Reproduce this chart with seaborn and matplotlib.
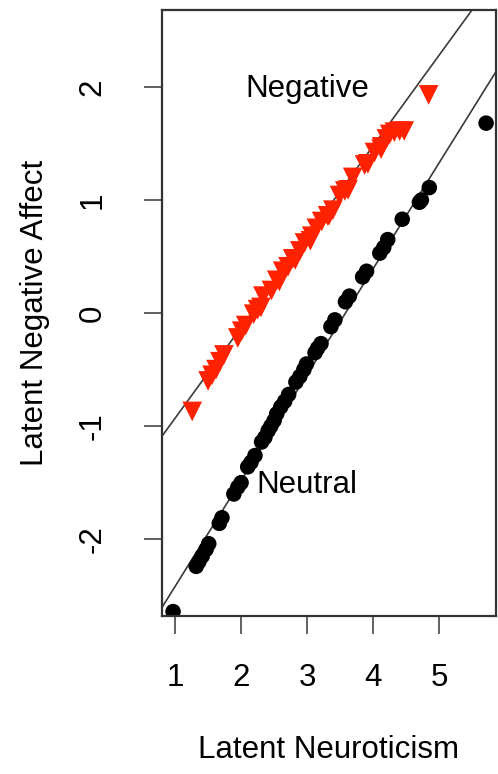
import numpy as np
import pandas as pd
import matplotlib
matplotlib.use("Agg")
import matplotlib.pyplot as plt
import seaborn as sns

# Neutral condition (black circles)
neutral_x = [0.97, 1.32, 1.36, 1.41, 1.47, 1.51, 1.67, 1.71, 1.89, 1.95, 2.00,
             2.10, 2.15, 2.21, 2.31, 2.36, 2.41, 2.45, 2.50, 2.54, 2.60, 2.66,
             2.72, 2.83, 2.89, 2.95, 2.99, 3.12, 3.16, 3.21, 3.36, 3.42, 3.58,
             3.64, 3.84, 3.90, 4.10, 4.16, 4.22, 4.44, 4.70, 4.73, 4.85, 5.71]
neutral_y = [-2.64, -2.24, -2.20, -2.15, -2.09, -2.04, -1.86, -1.81, -1.60, -1.54, -1.50,
             -1.36, -1.32, -1.26, -1.14, -1.10, -1.04, -1.00, -0.95, -0.89, -0.83, -0.78,
             -0.72, -0.61, -0.56, -0.50, -0.45, -0.35, -0.31, -0.27, -0.12, -0.06, 0.10,
             0.15, 0.32, 0.37, 0.53, 0.58, 0.65, 0.83, 0.98, 1.00, 1.11, 1.68]

# Negative condition (red triangles)
negative_x = [1.26, 1.50, 1.56, 1.62, 1.68, 1.74, 1.95, 2.01, 2.07, 2.19, 2.25,
              2.33, 2.46, 2.54, 2.63, 2.71, 2.78, 2.89, 2.96, 3.07, 3.14, 3.22,
              3.31, 3.39, 3.49, 3.57, 3.69, 3.87, 4.02, 4.13, 4.20, 4.25, 4.32,
              4.40, 4.47, 4.84, 2.30, 2.58, 2.82, 3.05, 3.33, 3.62, 3.92, 4.12]
negative_y = [-0.87, -0.60, -0.55, -0.50, -0.43, -0.37, -0.22, -0.16, -0.11, -0.01, 0.03,
              0.15, 0.20, 0.29, 0.37, 0.41, 0.48, 0.55, 0.62, 0.68, 0.75, 0.81,
              0.86, 0.91, 1.04, 1.08, 1.20, 1.31, 1.42, 1.47, 1.54, 1.58, 1.60,
              1.61, 1.61, 1.93, 0.05, 0.28, 0.47, 0.64, 0.86, 1.09, 1.32, 1.45]

# fitted lines (intercept, slope)
negative_line = (-1.733, 0.803)
neutral_line = (-3.355, 0.937)

df = pd.concat([
    pd.DataFrame({"neuro": neutral_x, "affect": neutral_y, "cond": "Neutral"}),
    pd.DataFrame({"neuro": negative_x, "affect": negative_y, "cond": "Negative"}),
])

sns.set_style("ticks")
plt.rcParams["font.family"] = ["Liberation Sans", "DejaVu Sans"]
plt.rcParams["text.color"] = "black"
plt.rcParams["axes.labelcolor"] = "black"
plt.rcParams["xtick.labelcolor"] = "black"
plt.rcParams["ytick.labelcolor"] = "black"

fig = plt.figure(figsize=(4.98, 7.74), dpi=100)
ax = fig.add_axes([0.325, 0.204, 0.671, 0.783])

for b0, b1 in (negative_line, neutral_line):
    ax.axline((0, b0), slope=b1, color="#3a3a3a", lw=1.2, zorder=1)

sns.scatterplot(data=df[df.cond == "Neutral"], x="neuro", y="affect", ax=ax,
                color="black", marker="o", s=125, edgecolor="none", zorder=2)
sns.scatterplot(data=df[df.cond == "Negative"], x="neuro", y="affect", ax=ax,
                color="#ff2200", marker="v", s=200, edgecolor="none", zorder=3)

ax.text(3.0, 1.98, "Negative", ha="center", va="center", fontsize=22.5)
ax.text(3.0, -1.52, "Neutral", ha="center", va="center", fontsize=22.5)

ax.set_xlim(0.80, 5.86)
ax.set_ylim(-2.68, 2.68)
ax.set_xticks([1, 2, 3, 4, 5])
ax.set_yticks([-2, -1, 0, 1, 2])
ax.set_yticklabels(["-2", "-1", "0", "1", "2"], rotation=90, va="center")
ax.tick_params(axis="both", direction="out", length=13, width=1.3, color="#555555",
               labelsize=22.5)
ax.tick_params(axis="x", pad=21)
ax.tick_params(axis="y", pad=26)

for sp in ax.spines.values():
    sp.set_color("#333333")
    sp.set_linewidth(1.6)
    sp.set_visible(True)

ax.set_xlabel("Latent Neuroticism", fontsize=22.5, va="center")
ax.set_ylabel("Latent Negative Affect", fontsize=22.5, va="center")
ax.xaxis.set_label_coords(0.5, -0.221)
ax.yaxis.set_label_coords(-0.380, 0.5)
if ax.legend_:
    ax.legend_.remove()

fig.savefig("out.png", dpi=100)
